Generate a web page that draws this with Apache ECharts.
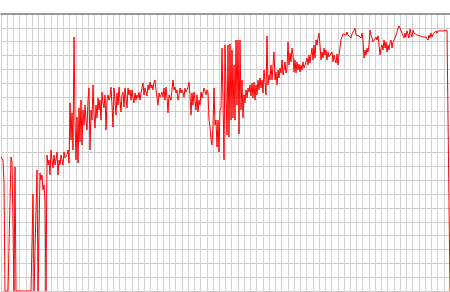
<!DOCTYPE html>
<html>
<head>
<meta charset="utf-8">
<script src="https://cdn.jsdelivr.net/npm/echarts@6/dist/echarts.min.js"></script>
<style>html,body{margin:0;padding:0;background:#fff;}#c{width:450px;height:292px;}</style>
</head>
<body>
<div id="c"></div>
<script>
var values = [
48.4,48.4,47.3,39.0,0,0,0,0,0,0,
48.4,46.2,45.5,0,44.8,0,0,0,0,0,
0,0,0,0,0,0,0,0,0,0,
0,0,35.0,0,0,0,43.7,0,0,42.6,
40.1,41.9,36.5,38.3,32.9,0,49.1,45.5,47.3,41.9,
50.9,47.3,44.4,49.1,45.5,47.3,50.2,41.9,47.3,45.5,
49.1,47.3,45.5,50.2,48.0,47.3,49.1,50.9,46.2,67.9,
54.5,64.3,50.9,91.7,61.7,47.3,62.8,46.2,66.1,53.8,
68.9,52.7,65.3,59.9,67.1,61.7,58.1,68.9,73.3,50.9,
65.3,61.7,74.4,63.5,58.8,67.1,62.5,69.7,65.3,68.9,
61.7,71.8,67.9,66.1,70.8,58.1,68.9,70.8,68.9,69.7,
73.6,67.1,59.2,73.3,72.6,63.5,71.5,67.1,73.6,68.9,
64.6,70.8,71.8,66.4,73.3,72.6,66.1,73.3,70.8,72.6,
68.9,72.6,69.7,67.9,71.5,68.9,70.8,69.7,71.8,68.9,
71.5,73.3,75.1,70.8,73.3,71.8,70.4,74.4,72.6,75.4,
73.3,74.4,72.6,75.4,76.2,72.6,69.7,67.1,71.5,70.0,
70.8,71.8,70.0,73.3,68.9,73.6,70.0,64.3,70.8,71.5,
68.9,72.6,76.2,72.6,73.6,71.5,72.6,68.9,70.8,73.3,
71.5,72.6,71.8,70.0,73.3,71.8,72.6,73.6,75.4,70.8,
63.5,71.5,67.1,71.8,68.9,65.3,70.8,64.6,68.9,67.1,
71.8,69.7,71.5,73.3,73.6,70.8,72.6,71.8,61.7,59.2,
54.5,52.7,59.9,73.3,59.9,61.7,52.0,61.7,50.2,65.3,
66.1,87.7,68.9,47.3,88.8,88.8,56.3,88.8,55.6,89.2,
61.7,87.0,62.5,81.6,61.7,90.6,67.1,90.6,56.7,90.6,
65.3,76.2,62.5,70.8,67.9,72.6,69.7,73.3,71.8,74.4,
70.4,75.1,69.7,75.4,68.9,74.4,70.8,76.2,72.6,76.9,
73.3,76.2,71.5,79.8,75.4,70.8,92.1,74.4,78.0,76.2,
81.6,76.2,76.9,86.3,76.2,79.1,74.4,79.8,76.9,80.5,
78.7,83.4,78.0,79.8,82.7,78.7,80.5,89.9,81.6,85.9,
82.7,87.7,85.2,79.1,83.4,78.7,82.7,79.8,81.9,79.1,
81.6,79.8,82.7,80.5,81.2,82.7,84.1,81.6,85.2,82.3,
85.2,87.7,83.4,88.8,84.1,90.6,88.8,91.3,93.1,88.8,
83.4,86.3,84.1,87.7,85.2,87.0,83.4,86.3,84.5,85.2,
84.1,86.3,82.7,85.2,84.5,82.3,85.6,81.6,85.2,85.9,
90.6,91.7,92.8,92.4,93.1,92.4,93.5,92.4,92.1,92.8,
91.3,92.8,93.5,92.8,94.9,92.4,91.7,93.1,92.1,92.8,
91.3,93.1,90.6,84.1,87.0,85.2,87.7,86.3,88.8,94.2,
92.4,91.3,89.9,90.6,89.5,91.7,90.6,92.1,88.8,85.2,
87.7,88.8,87.0,90.6,87.7,89.9,86.3,88.8,87.0,89.5,
90.6,87.7,89.9,90.6,91.3,92.4,93.5,94.9,95.7,94.9,
94.2,93.1,92.4,91.3,93.1,91.7,93.9,92.8,91.3,94.6,
92.8,91.7,94.2,93.1,92.4,92.8,92.4,92.8,92.4,92.1,
92.4,92.1,91.7,92.1,91.3,91.7,92.1,90.6,92.4,91.3,
93.1,91.7,92.8,93.5,92.8,93.9,93.1,93.9,93.5,94.2,
93.9,93.5,94.2,93.9,94.2,93.9,94.2,94.2,94.6,0
];
var categories = values.map(function (v, i) { return i; });
var yMin = 0, yMax = 100, yStep = 5;
var xCells = 72;

var chart = echarts.init(document.getElementById('c'), null, {renderer: 'canvas'});
chart.setOption({
  animation: false,
  backgroundColor: '#ffffff',
  grid: {left: 1, right: 0, top: 14, bottom: 1, containLabel: false},
  xAxis: [
    {
      type: 'category', data: categories, boundaryGap: false, position: 'top',
      axisLine: {show: true, onZero: false, lineStyle: {color: '#808080', width: 1.5}},
      axisTick: {show: false}, axisLabel: {show: false}, splitLine: {show: false}
    },
    {
      type: 'value', min: 0, max: xCells, interval: 1, position: 'bottom',
      axisLine: {show: false}, axisTick: {show: false}, axisLabel: {show: false},
      splitLine: {show: true, lineStyle: {color: '#d2d2d2', width: 1}}
    }
  ],
  yAxis: {
    type: 'value', min: yMin, max: yMax, interval: yStep,
    axisLine: {show: false}, axisTick: {show: false}, axisLabel: {show: false},
    splitLine: {show: true, lineStyle: {color: '#cccccc', width: 1}}
  },
  series: [{
    type: 'line', xAxisIndex: 0, data: values, showSymbol: false, symbol: 'none',
    sampling: null, lineStyle: {color: '#ff0000', width: 1}, z: 3
  }]
});
</script>
</body>
</html>
